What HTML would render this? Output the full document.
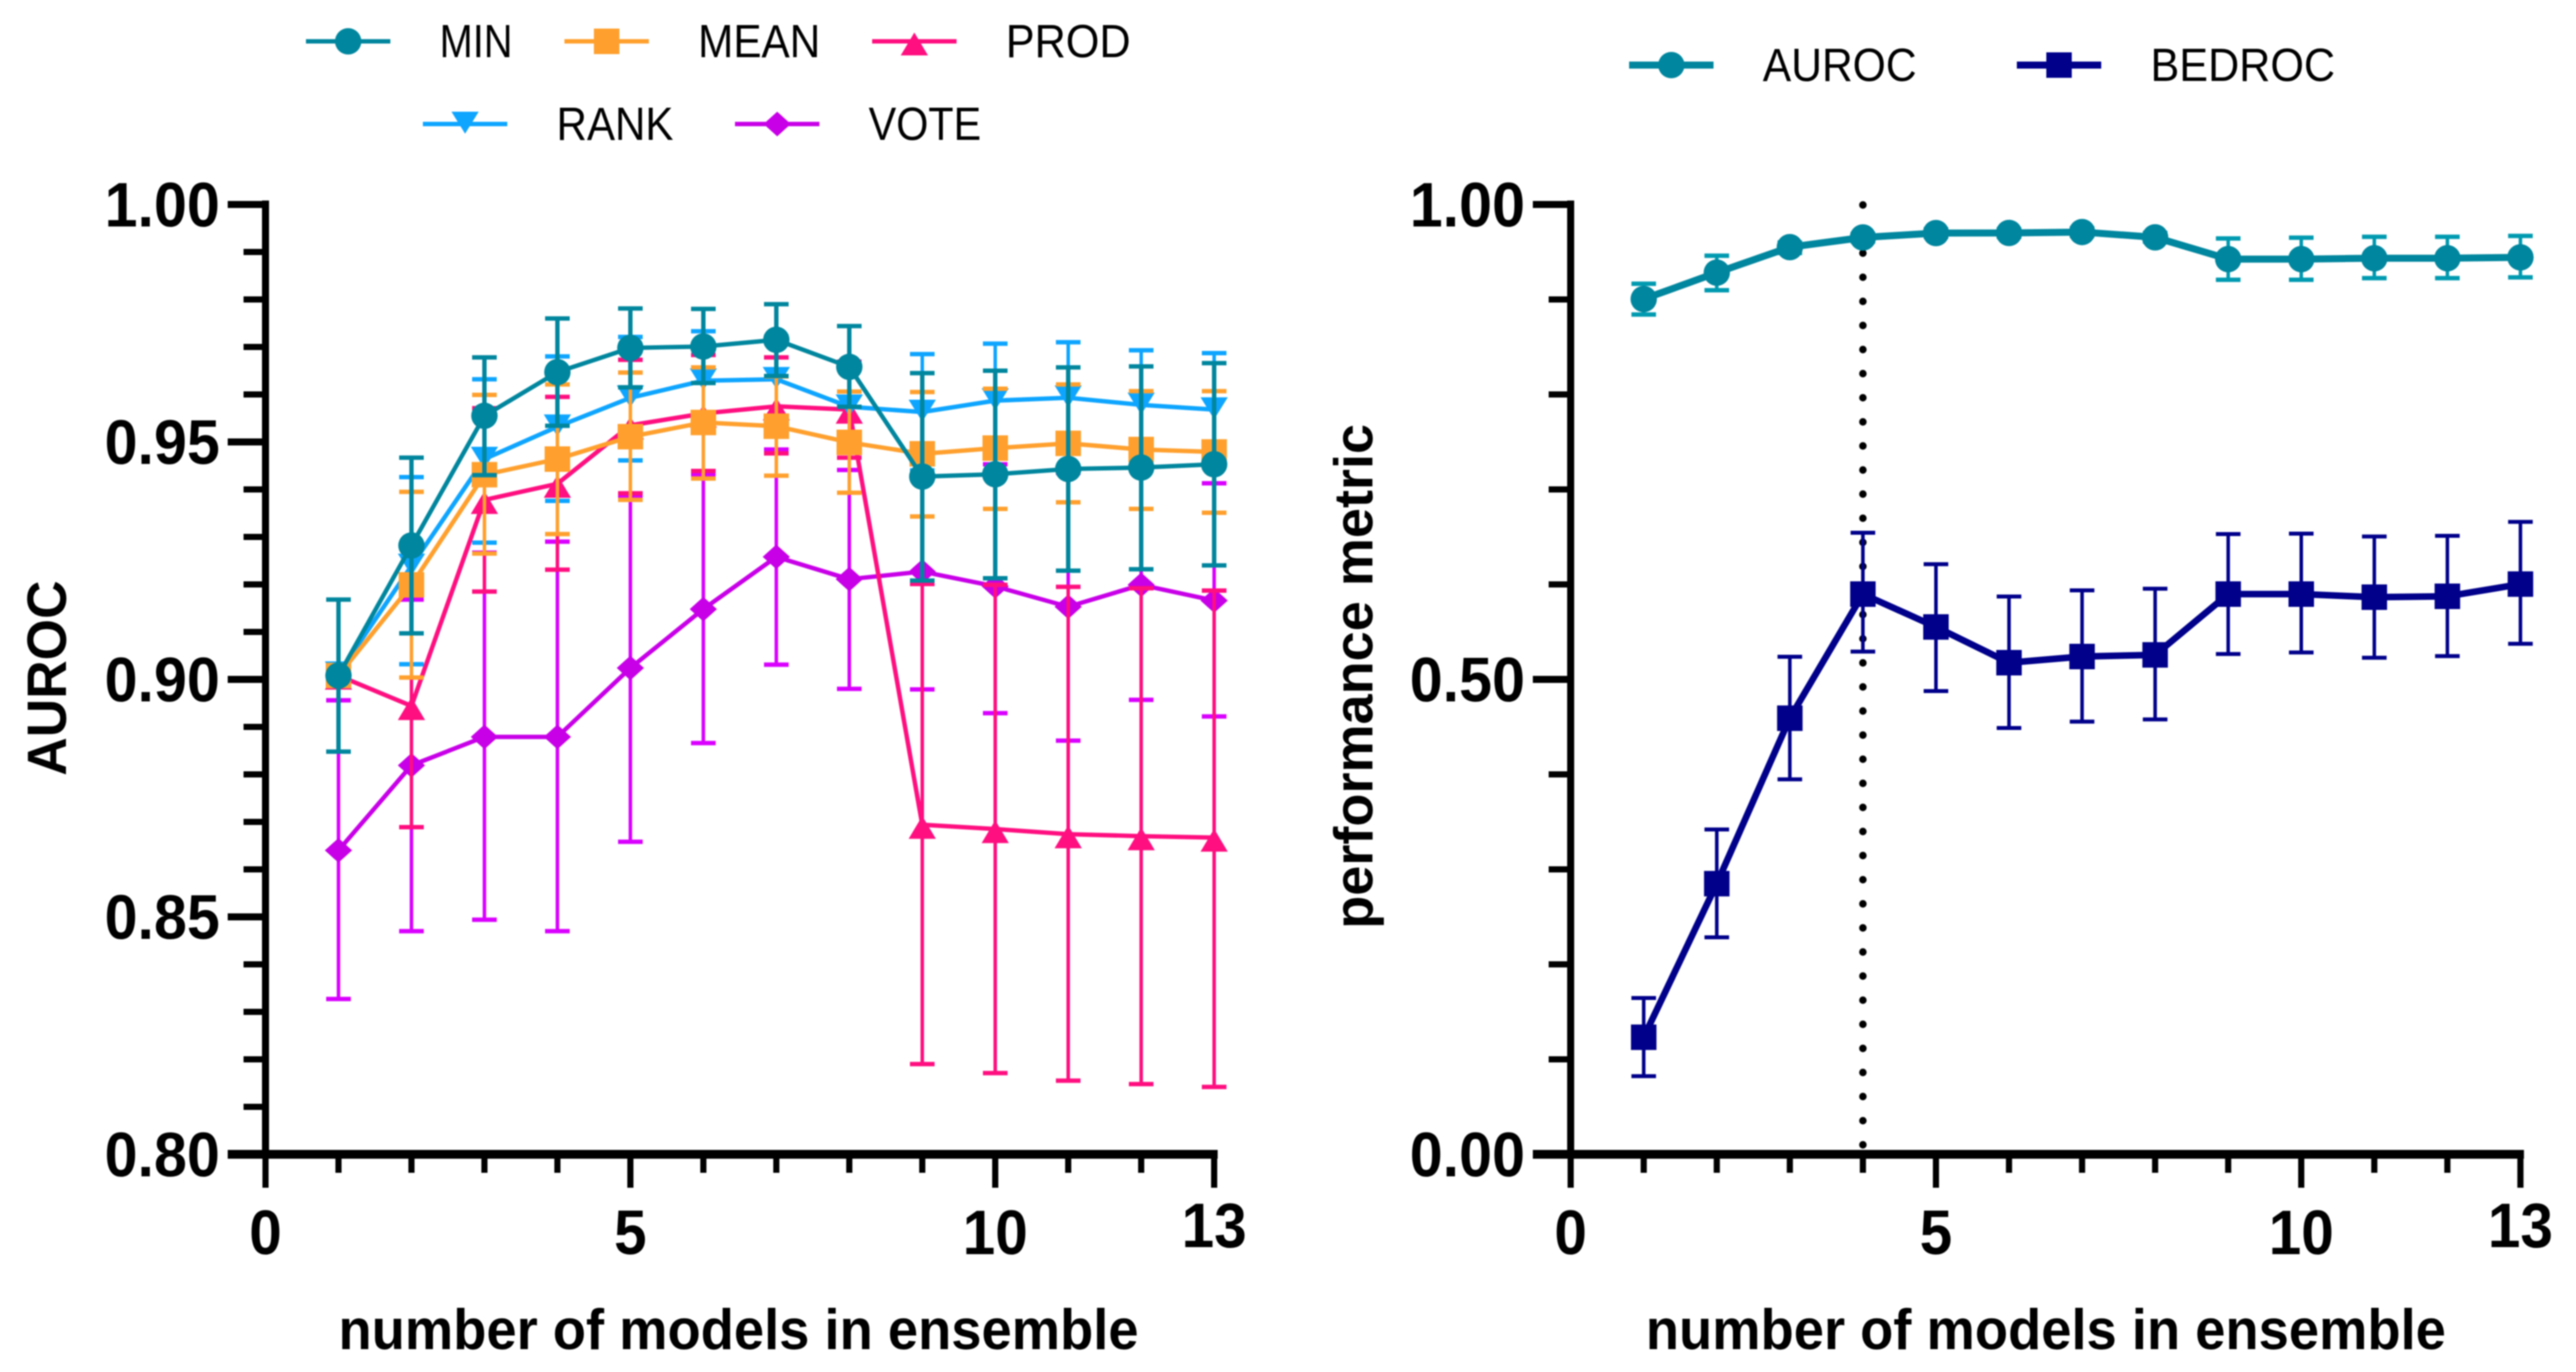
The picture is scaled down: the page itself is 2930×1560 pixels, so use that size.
<!DOCTYPE html>
<html lang="en">
<head>
<meta charset="utf-8">
<title>Ensemble performance charts</title>
<style>
html,body{margin:0;padding:0;background:#fff;width:2930px;height:1560px;overflow:hidden}
svg{display:block;filter:blur(0.8px)}
text{font-family:"Liberation Sans",Arial,sans-serif;fill:#000}
</style>
</head>
<body>
<svg id="figure" xmlns="http://www.w3.org/2000/svg" width="2930" height="1560" viewBox="0 0 2930 1560"></svg>
<script>
const modelCounts = [1,2,3,4,5,6,7,8,9,10,11,12,13];

const minMean  = [.9008,.9282,.9555,.9647,.9698,.9701,.9715,.9658,.9427,.9432,.9443,.9446,.9453];
const minUpper = [.9168,.9467,.9678,.9760,.9781,.9780,.9790,.9744,.9645,.9650,.9657,.9659,.9666];
const minLower = [.8848,.9097,.9430,.9534,.9615,.9624,.9639,.9574,.9208,.9213,.9229,.9232,.9240];

const rankMean  = [.9012,.9239,.9464,.9532,.9593,.9629,.9632,.9574,.9563,.9587,.9593,.9578,.9568];
const rankUpper = [.9030,.9426,.9632,.9680,.9721,.9733,.9722,.9665,.9685,.9707,.9710,.9693,.9687];
const rankLower = [.8990,.9032,.9288,.9376,.9461,.9534,.9547,.9480,.9440,.9467,.9476,.9463,.9449];

const meanMean  = [.9008,.9199,.9431,.9464,.9511,.9541,.9533,.9499,.9475,.9487,.9497,.9484,.9479];
const meanUpper = [.9025,.9395,.9599,.9621,.9646,.9657,.9638,.9606,.9605,.9612,.9621,.9607,.9607];
const meanLower = [.8990,.9004,.9265,.9306,.9378,.9423,.9429,.9393,.9343,.9359,.9373,.9359,.9351];

const prodMean  = [.9008,.8944,.9378,.9412,.9535,.9560,.9575,.9568,.8694,.8685,.8674,.8670,.8667];
const prodUpper = [.9025,.9199,.9571,.9595,.9673,.9683,.9678,.9669,.9201,.9199,.9195,.9192,.9187];
const prodLower = [.8990,.8689,.9185,.9231,.9392,.9439,.9476,.9467,.8190,.8171,.8155,.8148,.8142];

const voteMean  = [.8640,.8819,.8879,.8879,.9024,.9148,.9258,.9211,.9227,.9196,.9153,.9199,.9166];
const voteUpper = [.8956,.9168,.9267,.9290,.9387,.9431,.9484,.9441,.9475,.9453,.9435,.9444,.9413];
const voteLower = [.8327,.8470,.8494,.8470,.8658,.8866,.9031,.8980,.8979,.8929,.8871,.8957,.8922];

const aurocMean  = [.9005,.9282,.9551,.9653,.9699,.9700,.9710,.9654,.9425,.9425,.9434,.9434,.9443];
const aurocUpper = [.9165,.9461,.9600,.9690,.9740,.9740,.9750,.9700,.9642,.9651,.9660,.9660,.9669];
const aurocLower = [.8841,.9097,.9490,.9610,.9660,.9660,.9670,.9610,.9207,.9207,.9225,.9225,.9233];

const bedrocMean  = [.1233,.2850,.4592,.5898,.5552,.5176,.5241,.5258,.5898,.5898,.5866,.5875,.6003];
const bedrocUpper = [.1646,.3420,.5238,.6544,.6213,.5873,.5937,.5955,.6530,.6535,.6505,.6511,.6659];
const bedrocLower = [.0823,.2285,.3948,.5293,.4877,.4489,.4556,.4579,.5267,.5284,.5228,.5245,.5375];

const xMajorTicks = [0,5,10,13];
const xMinorTicks = [1,2,3,4,6,7,8,9,11,12];
const leftYMajor = [0.80,0.85,0.90,0.95,1.00];
const leftYMinor = [0.81,0.82,0.83,0.84,0.86,0.87,0.88,0.89,0.91,0.92,0.93,0.94,0.96,0.97,0.98,0.99];
const rightYMajor = [0,0.5,1];
const rightYMinor = [0.1,0.2,0.3,0.4,0.6,0.7,0.8,0.9];
const referenceModels = 4;

const TEAL = '#00869e', ORANGE = '#ffa02e', PINK = '#ff0f80', BLUE = '#0ea5ff', PURPLE = '#c800e8', NAVY = '#00008b';
const svg = document.getElementById('figure');
const NS = 'http://www.w3.org/2000/svg';

function make(tag, parent, attrs, name) {
  const el = document.createElementNS(NS, tag);
  for (const k in attrs) el.setAttribute(k, attrs[k]);
  
  
  parent.appendChild(el);
  return el;
}

function seg(parent, x1, y1, x2, y2, color, w, name) {
  return make('line', parent, {x1, y1, x2, y2, stroke: color, 'stroke-width': w}, name);
}

function label(parent, str, x, y, size, weight, anchor, name, len) {
  const attrs = {x, y, 'font-size': size, 'font-weight': weight, 'text-anchor': anchor};
  if (len) { attrs.textLength = len; attrs.lengthAdjust = 'spacingAndGlyphs'; }
  const t = make('text', parent, attrs, name);
  t.textContent = str;
  return t;
}

function marker(parent, shape, cx, cy, color, name) {
  if (shape === 'circle') return make('circle', parent, {cx, cy, r: 15, fill: color}, name);
  let pts;
  if (shape === 'square') pts = [[-14.5,-14.5],[14.5,-14.5],[14.5,14.5],[-14.5,14.5]];
  if (shape === 'up') pts = [[0,-10],[15.5,16],[-15.5,16]];
  if (shape === 'down') pts = [[-15.5,-14],[15.5,-14],[0,11]];
  if (shape === 'diamond') pts = [[0,-14],[15.5,0],[0,14],[-15.5,0]];
  const p = pts.map(q => (cx + q[0]) + ',' + (cy + q[1])).join(' ');
  return make('polygon', parent, {points: p, fill: color}, name);
}

function drawAxes(g, xAt, yAt, yMajor, yMinor, yFmt, originValue) {
  const x0 = xAt(0), y0 = yAt(originValue);
  const yTop = yAt(yMajor[yMajor.length - 1]);
  seg(g, x0, yTop - 4.5, x0, y0 + 4, '#000', 8, 'y-axis-line');
  seg(g, x0 - 43, y0, xAt(13) + 4, y0, '#000', 10, 'x-axis-line');
  yMajor.forEach(v => {
    seg(g, x0 - 43, yAt(v), x0, yAt(v), '#000', 8, 'y-major-tick');
    label(g, yFmt(v), x0 - 52, yAt(v) + 25, 71, 'bold', 'end', 'y-tick-label', 131);
  });
  yMinor.forEach(v => seg(g, x0 - 25, yAt(v), x0, yAt(v), '#000', 7, 'y-minor-tick'));
  xMajorTicks.forEach(v => {
    seg(g, xAt(v), y0, xAt(v), y0 + 38, '#000', 7, 'x-major-tick');
    const digits = String(v).length;
    label(g, String(v), xAt(v), v === 13 ? 1418 : 1426, 71, 'bold', 'middle', 'x-tick-label', digits * 37);
  });
  xMinorTicks.forEach(v => seg(g, xAt(v), y0, xAt(v), y0 + 21, '#000', 7, 'x-minor-tick'));
}

function drawSeries(g, xAt, yAt, s) {
  const grp = make('g', g, {}, 'series-' + s.name);
  s.mean.forEach((_, i) => {
    const x = xAt(modelCounts[i]);
    seg(grp, x, yAt(s.upper[i]), x, yAt(s.lower[i]), s.barColor || s.color, s.barW, 'error-bar-' + s.name);
    seg(grp, x - 14, yAt(s.upper[i]), x + 14, yAt(s.upper[i]), s.barColor || s.color, s.capW, 'error-cap-upper-' + s.name);
    seg(grp, x - 14, yAt(s.lower[i]), x + 14, yAt(s.lower[i]), s.barColor || s.color, s.capW, 'error-cap-lower-' + s.name);
  });
  const pts = s.mean.map((v, i) => xAt(modelCounts[i]) + ',' + yAt(v)).join(' ');
  make('polyline', grp, {points: pts, fill: 'none', stroke: s.color, 'stroke-width': s.lineW, 'stroke-linejoin': 'round'}, 'line-' + s.name);
  s.mean.forEach((v, i) => marker(grp, s.shape, xAt(modelCounts[i]), yAt(v), s.color, 'point-' + s.name));
}

function drawLegend(g, cx, cy, w, color, shape, text, tx, ty, tlen) {
  const grp = make('g', g, {}, 'legend-entry-' + text.toLowerCase());
  seg(grp, cx - 48, cy, cx + 48, cy, color, w, 'legend-line');
  marker(grp, shape, cx, cy, color, 'legend-marker');
  label(grp, text, tx, ty, 53, 'normal', 'start', 'legend-label', tlen);
}

/* left panel */
const leftX = v => 302 + v * 83;
const leftY = v => 232.5 + (1 - v) * 5400;
const left = make('g', svg, {}, 'auroc-chart');
drawSeries(left, leftX, leftY, {name:'vote', mean:voteMean, upper:voteUpper, lower:voteLower, color:PURPLE, barColor:'#d900ff', shape:'diamond', lineW:5, barW:4, capW:5});
drawSeries(left, leftX, leftY, {name:'prod', mean:prodMean, upper:prodUpper, lower:prodLower, color:PINK, shape:'up', lineW:5, barW:4, capW:5});
drawSeries(left, leftX, leftY, {name:'rank', mean:rankMean, upper:rankUpper, lower:rankLower, color:BLUE, shape:'down', lineW:5, barW:4, capW:5});
drawSeries(left, leftX, leftY, {name:'mean', mean:meanMean, upper:meanUpper, lower:meanLower, color:ORANGE, shape:'square', lineW:5, barW:4, capW:5});
drawSeries(left, leftX, leftY, {name:'min', mean:minMean, upper:minUpper, lower:minLower, color:TEAL, shape:'circle', lineW:5, barW:5, capW:5});
drawAxes(left, leftX, leftY, leftYMajor, leftYMinor, v => v.toFixed(2), 0.8);
label(left, 'number of models in ensemble', 840, 1534, 65, 'bold', 'middle', 'x-axis-title', 910);
const leftTitle = label(left, 'AUROC', 0, 0, 63, 'bold', 'middle', 'y-axis-title', 222);
leftTitle.setAttribute('transform', 'translate(75 771) rotate(-90)');

const leftLegend = make('g', svg, {}, 'methods-legend');
drawLegend(leftLegend, 396, 47, 5, TEAL, 'circle', 'MIN', 500, 65, 83);
drawLegend(leftLegend, 690, 47, 5, ORANGE, 'square', 'MEAN', 794, 65, 139);
drawLegend(leftLegend, 1040, 47, 5, PINK, 'up', 'PROD', 1144, 65, 142);
drawLegend(leftLegend, 529, 141, 5, BLUE, 'down', 'RANK', 633, 159, 133);
drawLegend(leftLegend, 884, 141, 5, PURPLE, 'diamond', 'VOTE', 988, 159, 128);

/* right panel */
const rightX = v => 1786.5 + v * 83.1;
const rightY = v => 232.5 + (1 - v) * 1080;
const right = make('g', svg, {}, 'performance-chart');
make('line', right, {x1: rightX(referenceModels), y1: 233, x2: rightX(referenceModels), y2: 1310, stroke: '#000', 'stroke-width': 8.5, 'stroke-linecap': 'round', 'stroke-dasharray': '0.1 27.3'}, 'reference-dotted-line');
drawSeries(right, rightX, rightY, {name:'auroc', mean:aurocMean, upper:aurocUpper, lower:aurocLower, color:TEAL, barColor:'#009ab0', shape:'circle', lineW:8, barW:4, capW:5});
drawSeries(right, rightX, rightY, {name:'bedroc', mean:bedrocMean, upper:bedrocUpper, lower:bedrocLower, color:NAVY, shape:'square', lineW:7.5, barW:4, capW:4.5});
drawAxes(right, rightX, rightY, rightYMajor, rightYMinor, v => v.toFixed(2), 0);
label(right, 'number of models in ensemble', 2327, 1534, 65, 'bold', 'middle', 'x-axis-title', 910);
const rightTitle = label(right, 'performance metric', 0, 0, 62, 'bold', 'middle', 'y-axis-title', 574);
rightTitle.setAttribute('transform', 'translate(1561 769) rotate(-90)');

const rightLegend = make('g', svg, {}, 'metrics-legend');
drawLegend(rightLegend, 1901, 74, 8, TEAL, 'circle', 'AUROC', 2005, 92, 175);
drawLegend(rightLegend, 2342, 74, 8, NAVY, 'square', 'BEDROC', 2446, 92, 210);
</script>
</body>
</html>
